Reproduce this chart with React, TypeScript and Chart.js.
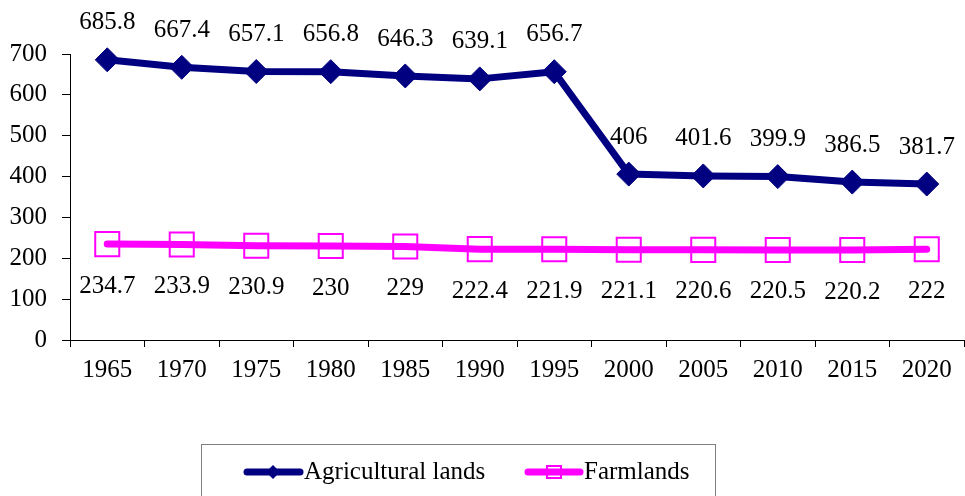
import React, { useEffect, useRef } from "react";
import { Chart, registerables } from "chart.js";

Chart.register(...registerables);

const years = ["1965", "1970", "1975", "1980", "1985", "1990", "1995", "2000", "2005", "2010", "2015", "2020"];
const agriculturalLands = [685.8, 667.4, 657.1, 656.8, 646.3, 639.1, 656.7, 406, 401.6, 399.9, 386.5, 381.7];
const farmlands = [234.7, 233.9, 230.9, 230, 229, 222.4, 221.9, 221.1, 220.6, 220.5, 220.2, 222];
const seriesNames = ["Agricultural lands", "Farmlands"];

const NAVY = "#000080";
const MAGENTA = "#FF00FF";
const FONT = "'Liberation Serif', 'Times New Roman', serif";

const labelPlugin = {
  id: "valueLabels",
  afterDatasetsDraw(chart: any) {
    const ctx = chart.ctx;
    ctx.save();
    ctx.font = `25px ${FONT}`;
    ctx.fillStyle = "#000";
    ctx.textAlign = "center";
    ctx.textBaseline = "middle";
    chart.data.datasets.forEach((ds: any, di: number) => {
      const meta = chart.getDatasetMeta(di);
      meta.data.forEach((pt: any, i: number) => {
        const v = ds.data[i];
        const y = di === 0 ? pt.y - 37 : pt.y + 42;
        ctx.fillText(String(v), pt.x, y);
      });
    });
    ctx.restore();
  },
};

const legendPlugin = {
  id: "boxLegend",
  afterDraw(chart: any) {
    const ctx = chart.ctx;
    ctx.save();
    ctx.strokeStyle = "#808080";
    ctx.lineWidth = 1;
    ctx.strokeRect(201.5, 444.5, 514, 60);
    const y = 472;
    ctx.lineCap = "round";
    ctx.lineWidth = 7;
    ctx.strokeStyle = NAVY;
    ctx.beginPath();
    ctx.moveTo(247, y);
    ctx.lineTo(300, y);
    ctx.stroke();
    ctx.fillStyle = NAVY;
    ctx.beginPath();
    ctx.moveTo(273, y - 7);
    ctx.lineTo(280, y);
    ctx.lineTo(273, y + 7);
    ctx.lineTo(266, y);
    ctx.closePath();
    ctx.fill();
    ctx.strokeStyle = MAGENTA;
    ctx.beginPath();
    ctx.moveTo(528, y);
    ctx.lineTo(580, y);
    ctx.stroke();
    ctx.lineWidth = 2;
    ctx.strokeRect(547, y - 6, 14, 12);
    ctx.fillStyle = "#000";
    ctx.font = `25px ${FONT}`;
    ctx.textAlign = "left";
    ctx.textBaseline = "middle";
    ctx.fillText(seriesNames[0], 304, y);
    ctx.fillText(seriesNames[1], 584, y);
    ctx.restore();
  },
};

export default function App() {
  const ref = useRef<HTMLCanvasElement | null>(null);
  useEffect(() => {
    if (!ref.current) return;
    const chart = new Chart(ref.current, {
      type: "line",
      data: {
        labels: years,
        datasets: [
          {
            label: seriesNames[0],
            data: agriculturalLands,
            borderColor: NAVY,
            backgroundColor: NAVY,
            borderWidth: 7,
            borderCapStyle: "round",
            borderJoinStyle: "round",
            pointStyle: "rectRot",
            pointRadius: 12,
            pointBorderWidth: 1,
            pointBackgroundColor: NAVY,
            pointBorderColor: NAVY,
            tension: 0,
            clip: false,
          },
          {
            label: seriesNames[1],
            data: farmlands,
            borderColor: MAGENTA,
            backgroundColor: "rgba(0,0,0,0)",
            borderWidth: 7,
            borderCapStyle: "round",
            borderJoinStyle: "round",
            pointStyle: "rect",
            pointRadius: 17,
            pointBorderWidth: 2,
            pointBackgroundColor: "rgba(0,0,0,0)",
            pointBorderColor: MAGENTA,
            tension: 0,
            clip: false,
          },
        ],
      } as any,
      options: {
        animation: false,
        responsive: true,
        maintainAspectRatio: false,
        layout: { autoPadding: false, padding: { top: 54, right: 1, left: 0, bottom: 0 } },
        plugins: { legend: { display: false }, tooltip: { enabled: false } },
        scales: {
          x: {
            type: "category",
            offset: true,
            grid: { offset: true, drawOnChartArea: false, drawTicks: true, tickLength: 7, color: "#000" },
            border: { color: "#000", width: 1 },
            ticks: { color: "#000", font: { family: FONT, size: 25 }, padding: 8, maxRotation: 0, autoSkip: false },
            afterFit: (s: any) => { s.height = 156; s.paddingLeft = 0; s.paddingRight = 0; },
          },
          y: {
            min: 0,
            max: 700,
            grid: { drawOnChartArea: false, drawTicks: true, tickLength: 8, color: "#000" },
            border: { color: "#000", width: 1 },
            ticks: { stepSize: 100, color: "#000", font: { family: FONT, size: 25 }, padding: 15 },
            afterFit: (s: any) => { s.width = 70; s.paddingTop = 0; s.paddingBottom = 0; },
          },
        },
      } as any,
      plugins: [labelPlugin, legendPlugin],
    });
    return () => chart.destroy();
  }, []);
  return (
    <div style={{ position: "fixed", left: 0, top: 0, width: 965, height: 496, background: "#fff" }}>
      <canvas ref={ref} />
    </div>
  );
}
